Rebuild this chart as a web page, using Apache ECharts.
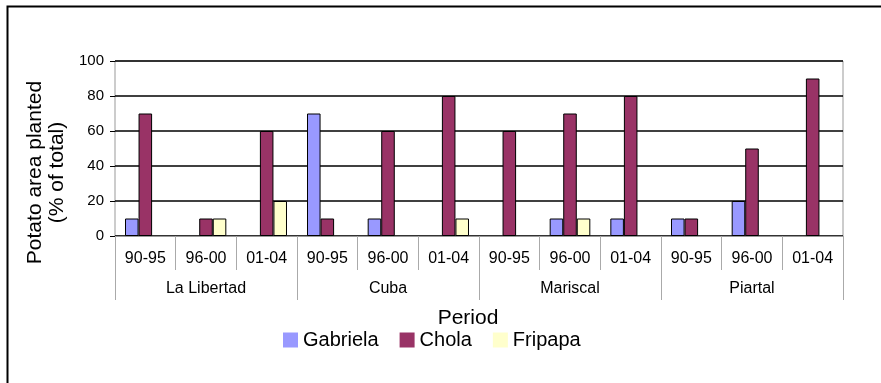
<!DOCTYPE html>
<html lang="en">
<head>
    <meta charset="UTF-8">
    <title>Potato area planted</title>
    <script src="https://cdn.jsdelivr.net/npm/echarts@6/dist/echarts.min.js"></script>
    <style>
        html, body { margin: 0; padding: 0; background: #fff; }
        #chart { width: 881px; height: 383px; }
    </style>
</head>
<body>
<div id="chart"></div>
<script>
    // periods per site, sites
    const periods = ['90-95', '96-00', '01-04', '90-95', '96-00', '01-04',
                     '90-95', '96-00', '01-04', '90-95', '96-00', '01-04'];
    const sites = ['La Libertad', 'Cuba', 'Mariscal', 'Piartal'];
    const yTicks = [0, 20, 40, 60, 80, 100];

    // % of total potato area
    const gabriela = [10, 0, 0, 70, 10, 0, 0, 10, 10, 10, 20, 0];
    const chola    = [70, 10, 60, 10, 60, 80, 60, 70, 80, 10, 50, 90];
    const fripapa  = [0, 10, 20, 0, 0, 10, 0, 10, 0, 0, 0, 0];

    const font = 'Liberation Sans, Arial, sans-serif';
    const chart = echarts.init(document.getElementById('chart'));

    function barSeries(name, data, color) {
        return {
            name: name,
            type: 'bar',
            // zero bars are simply not drawn (no flat outline)
            data: data.map(v => v === 0 ? null : v),
            barGap: '0%',
            barCategoryGap: '33%',
            itemStyle: { color: color, borderColor: '#000', borderWidth: 1 }
        };
    }

    chart.setOption({
        animation: false,
        textStyle: { fontFamily: font, color: '#000' },
        graphic: [{
            type: 'rect',
            shape: { x: 7.5, y: 6.5, width: 880, height: 390 },
            style: { fill: 'none', stroke: '#000', lineWidth: 2 },
            silent: true
        }],
        grid: { left: 115, right: 38, top: 61, bottom: 147, show: true, borderColor: '#999', borderWidth: 1 },
        legend: {
            left: 278, top: 325,
            itemWidth: 15, itemHeight: 15, itemGap: 21,
            icon: 'rect',
            itemStyle: { borderWidth: 0 },
            textStyle: { fontSize: 20, color: '#000', fontFamily: font },
            data: ['Gabriela', 'Chola', 'Fripapa']
        },
        xAxis: [{
            type: 'category',
            data: periods,
            axisLine: { show: true, lineStyle: { color: '#999' } },
            axisTick: { show: true, length: 34, lineStyle: { color: '#aaa' } },
            axisLabel: { show: true, fontSize: 16, color: '#000', margin: 15, interval: 0 }
        }, {
            type: 'category',
            data: sites,
            position: 'bottom',
            axisLine: { show: false },
            axisTick: { show: true, length: 64, lineStyle: { color: '#aaa' } },
            axisLabel: { show: true, fontSize: 16, color: '#000', margin: 45, interval: 0 },
            name: 'Period',
            nameLocation: 'middle',
            nameGap: 72,
            nameTextStyle: { fontSize: 21, color: '#000', padding: [0, 22, 0, 0] }
        }],
        yAxis: {
            type: 'value',
            min: yTicks[0],
            max: yTicks[yTicks.length - 1],
            interval: 20,
            name: 'Potato area planted\n(% of total)',
            nameLocation: 'middle',
            nameGap: 47,
            nameTextStyle: { fontSize: 21, color: '#000', lineHeight: 22, padding: [0, 48, 0, 0] },
            axisLine: { show: false },
            axisTick: { show: true, length: 5, lineStyle: { color: '#000' } },
            axisLabel: { fontSize: 15, color: '#000', margin: 11 },
            splitLine: { lineStyle: { color: '#000', width: 1.5 } }
        },
        series: [
            barSeries('Gabriela', gabriela, '#9999ff'),
            barSeries('Chola', chola, '#993366'),
            barSeries('Fripapa', fripapa, '#ffffcc')
        ]
    });
</script>
</body>
</html>
